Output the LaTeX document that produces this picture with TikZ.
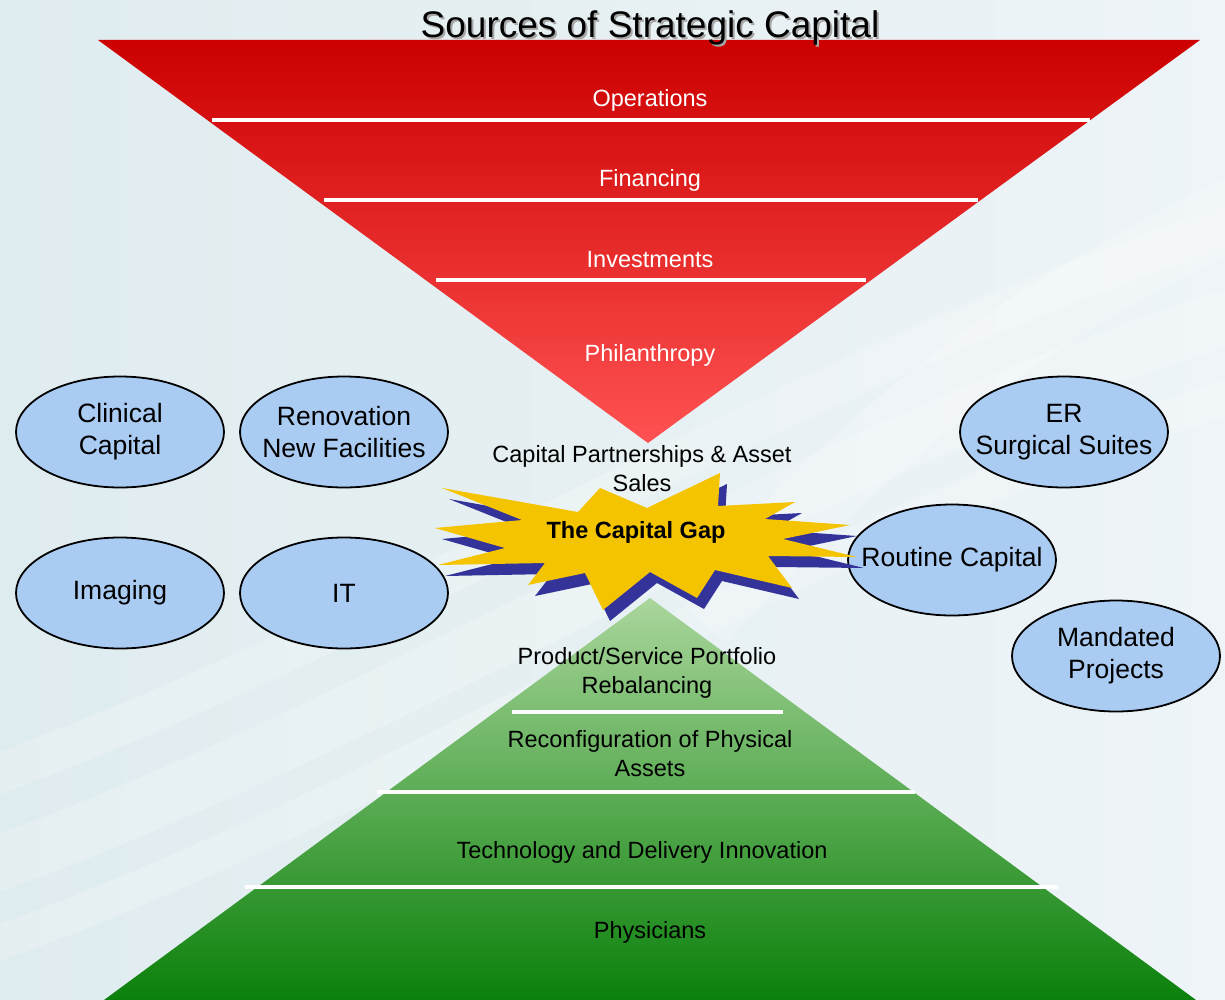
\documentclass[tikz,border=0pt]{standalone}
\usepackage{fontspec}
\setmainfont{Liberation Sans}
\usepackage{tikz}
\usepackage{xcolor}
\usetikzlibrary{shapes.geometric, positioning}

\definecolor{bgleft}{HTML}{DFECEF}
\definecolor{bgright}{HTML}{EEF4F7}
\definecolor{redtop}{HTML}{CC0000}
\definecolor{redbottom}{HTML}{FF5252}
\definecolor{greentop}{HTML}{AAD69C}
\definecolor{greenbottom}{HTML}{0A800A}
\definecolor{bubbleblue}{HTML}{AACBF2}
\definecolor{staryellow}{HTML}{F5C400}
\definecolor{starblue}{HTML}{333399}

\begin{document}
\begin{tikzpicture}[x=1pt, y=-1pt,
    layertext/.style={font=\fontsize{23.5}{29}\selectfont, align=center, inner sep=0pt},
    bubble/.style={ellipse, draw=black, line width=1.8pt, fill=bubbleblue, minimum width=208, minimum height=111, inner xsep=-18pt, inner ysep=0pt, align=center, font=\fontsize{26.5}{32}\selectfont},
    divider/.style={white, line width=4.5pt}]
    \useasboundingbox (0,0) rectangle (1225,1000);

    % background and faint swooshes
    \shade[left color=bgleft, right color=bgright] (0,0) rectangle (1225,1000);
    \foreach \y/\w in {780/40, 870/55, 950/35} {
        \draw[white, opacity=0.2, line width=\w] (-20,\y) .. controls (400,\y-150) and (800,\y-420) .. (1250,\y-560);
    }
    \draw[white, opacity=0.2, line width=70] (700,620) .. controls (900,400) and (1050,300) .. (1260,200);

    % sources funnel
    \shade[top color=redtop, bottom color=redbottom] (98,40) -- (1200,40) -- (648,443) -- cycle;
    \draw[divider] (212,120) -- (1090,120);
    \draw[divider] (324,200) -- (978,200);
    \draw[divider] (436,280) -- (866,280);
    \node[layertext, white] (ops) at (650,100) {Operations};
    \node[layertext, white] (fin) at (650,180) {Financing};
    \node[layertext, white] (inv) at (650,260) {Investments};
    \node[layertext, white] (phil) at (650,355) {Philanthropy};

    % title with shadow
    \node[font=\fontsize{37}{44}\selectfont, text=gray!70, inner sep=0pt] (titleshadow) at (652,30) {Sources of Strategic Capital};
    \node[font=\fontsize{37}{44}\selectfont, inner sep=0pt] (title) at (650,28) {Sources of Strategic Capital};

    % uses pyramid
    \shade[top color=greentop, bottom color=greenbottom] (650,598) -- (1196,1000) -- (104,1000) -- cycle;
    \draw[divider] (512,712) -- (783,712);
    \draw[divider] (377,792) -- (915,792);
    \draw[divider] (245,887) -- (1058,887);
    \node[layertext] (prod) at (647,673) {Product/Service Portfolio\\Rebalancing};
    \node[layertext] (reconf) at (650,754) {Reconfiguration of Physical\\Assets};
    \node[layertext] (tech) at (642,852) {Technology and Delivery Innovation};
    \node[layertext] (phys) at (650,932) {Physicians};

    % demands
    \node[bubble] (clin) at (120,432) {Clinical\\Capital};
    \node[bubble] (renov) at (344,432) {Renovation\\New Facilities};
    \node[bubble] (img) at (120,593) {Imaging};
    \node[bubble] (it) at (344,593) {IT};
    \node[bubble] (er) at (1064,432) {ER\\Surgical Suites};
    \node[bubble] (routine) at (952,560) {Routine Capital};
    \node[bubble] (mand) at (1116,656) {Mandated\\Projects};

    % the gap
    \node[layertext] (partner) at (642,469) {Capital Partnerships \& Asset\\Sales};
    \foreach \dx/\dy/\col in {7/11/starblue, 0/0/staryellow} {
        \fill[\col, shift={(\dx,\dy)}] (720,473) -- (718,506) -- (795,502) -- (765,519) -- (850,525) -- (783,539)
            -- (857,557) -- (768,556) -- (792,588) -- (715,570) -- (697,598) -- (650,572) -- (603,610)
            -- (585,573) -- (528,585) -- (545,563) -- (438,565) -- (505,548) -- (435,528) -- (522,520)
            -- (442,488) -- (578,512) -- (600,488) -- (647,508) -- cycle;
    }
    \node[layertext, font=\bfseries\fontsize{23.5}{29}\selectfont] (gap) at (636,532) {The Capital Gap};
\end{tikzpicture}
\end{document}
